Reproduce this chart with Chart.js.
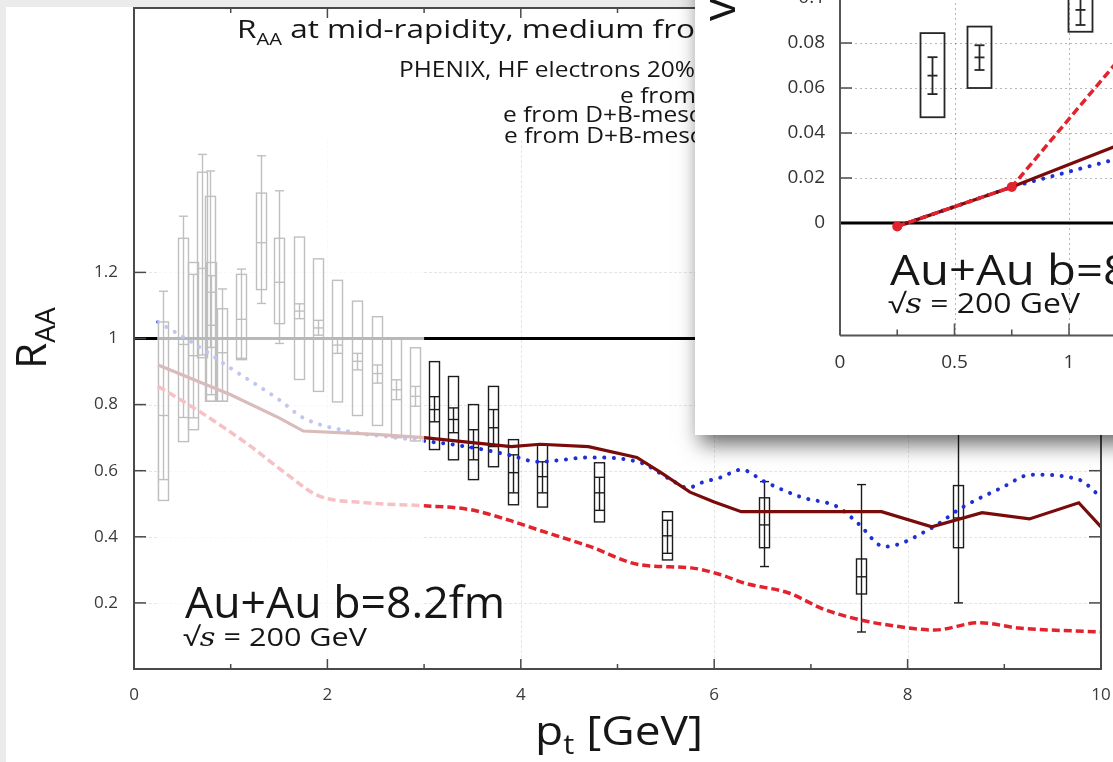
<!DOCTYPE html>
<html>
<head>
<meta charset="utf-8">
<title>R_AA of heavy-flavour electrons</title>
<script src="https://cdn.jsdelivr.net/npm/chart.js@4.4.1/dist/chart.umd.min.js"></script>
<style>
  html, body { margin: 0; padding: 0; overflow: hidden; background: #fff; }
  #wrap { position: relative; width: 1113px; height: 762px; overflow: hidden; }
  #main { position: absolute; left: 0; top: 0; width: 1113px; height: 762px; }
  #inset { position: absolute; left: 695px; top: -60px; width: 640px; height: 495px;
           background: #fff; box-shadow: 5px 9px 20px rgba(0, 0, 0, 0.6); }
</style>
</head>
<body>
<div id="wrap">
  <canvas id="main" width="1113" height="762"></canvas>
  <canvas id="inset" width="640" height="495"></canvas>
</div>
<script>
// ---- R_AA panel: model curves (pt in GeV) ----
const unityPt = [0, 10];
const unityVal = [1, 1];

const solidPt  = [0.25, 1.0, 1.5, 1.75, 2.5, 3.0, 3.5, 3.9, 4.2, 4.7, 5.2, 5.45, 5.75, 6.0, 6.28, 7.73, 8.25, 8.77, 9.26, 9.77, 10.0];
const solidRaa = [0.92, 0.83, 0.76, 0.72, 0.71, 0.70, 0.685, 0.673, 0.68, 0.673, 0.64, 0.594, 0.535, 0.505, 0.476, 0.476, 0.43, 0.473, 0.454, 0.503, 0.43];

const dottedPt  = [0.25, 0.7, 1.0, 1.5, 1.75, 2.2, 2.7, 3.0, 3.5, 3.87, 4.18, 4.72, 5.24, 5.55, 5.73, 5.87, 6.07, 6.28, 6.52, 6.9, 7.28, 7.49, 7.76, 8.25, 8.56, 8.97, 9.28, 9.77, 10.0];
const dottedRaa = [1.05, 0.97, 0.91, 0.815, 0.76, 0.72, 0.70, 0.69, 0.67, 0.648, 0.627, 0.64, 0.624, 0.573, 0.548, 0.564, 0.58, 0.603, 0.567, 0.52, 0.49, 0.44, 0.37, 0.427, 0.488, 0.548, 0.588, 0.573, 0.52];

const dashedPt  = [0.25, 0.7, 1.2, 1.6, 1.9, 2.4, 3.0, 3.48, 3.87, 4.18, 4.72, 5.24, 5.76, 6.07, 6.31, 6.77, 7.14, 7.52, 7.8, 8.28, 8.74, 9.15, 10.0];
const dashedRaa = [0.855, 0.775, 0.675, 0.585, 0.525, 0.503, 0.494, 0.482, 0.451, 0.421, 0.37, 0.315, 0.306, 0.285, 0.26, 0.23, 0.18, 0.148, 0.133, 0.118, 0.14, 0.124, 0.112];

// ---- PHENIX heavy-flavour electrons: value, stat. error bar, syst. box ----
const phenixPt     = [0.30, 0.51, 0.615, 0.705, 0.79, 0.80, 0.91, 1.11, 1.31, 1.50, 1.705, 1.90, 2.10, 2.31, 2.51, 2.71, 2.91, 3.10, 3.30, 3.51, 3.71, 3.92, 4.22, 4.81, 5.51, 6.52, 7.52, 8.52];
const phenixRaa    = [0.767, 0.982, 0.948, 1.212, 1.14, 1.04, 0.957, 1.058, 1.29, 1.17, 1.083, 1.032, 0.98, 0.931, 0.894, 0.845, 0.825, 0.785, 0.755, 0.67, 0.73, 0.594, 0.582, 0.533, 0.403, 0.436, 0.279, 0.457];
const phenixStatLo = [0.573, 0.761, 0.76, 0.95, 0.973, 0.83, 0.81, 0.94, 1.106, 0.985, 1.06, 1.01, 0.955, 0.905, 0.865, 0.815, 0.795, 0.748, 0.715, 0.633, 0.673, 0.533, 0.533, 0.48, 0.35, 0.31, 0.112, 0.20];
const phenixStatHi = [1.143, 1.37, 1.194, 1.557, 1.507, 1.19, 1.15, 1.21, 1.553, 1.447, 1.105, 1.055, 1.0, 0.955, 0.92, 0.875, 0.855, 0.824, 0.79, 0.724, 0.785, 0.648, 0.627, 0.58, 0.45, 0.567, 0.558, 0.80];
const phenixSysLo  = [0.51, 0.688, 0.724, 0.942, 0.81, 0.81, 0.81, 0.936, 1.148, 1.045, 0.876, 0.84, 0.808, 0.767, 0.737, 0.70, 0.69, 0.664, 0.633, 0.573, 0.612, 0.497, 0.49, 0.445, 0.33, 0.367, 0.227, 0.367];
const phenixSysHi  = [1.05, 1.303, 1.23, 1.503, 1.43, 1.23, 1.09, 1.194, 1.44, 1.303, 1.307, 1.241, 1.176, 1.113, 1.066, 1.0, 0.972, 0.93, 0.885, 0.80, 0.855, 0.694, 0.679, 0.624, 0.476, 0.518, 0.333, 0.555];

// ---- v2 panel ----
const zeroPt  = [0, 2];
const zeroVal = [0, 0];
const v2CurvePt = [0.25, 0.75, 1.25];
const v2Dashed  = [-0.0015, 0.016, 0.0765];
const v2Solid   = [-0.0015, 0.016, 0.036];
const v2Dotted  = [-0.0015, 0.016, 0.0296];

const v2Pt     = [0.40, 0.605, 1.05];
const v2Val    = [0.0655, 0.0736, 0.0947];
const v2StatLo = [0.0573, 0.068, 0.088];
const v2StatHi = [0.0737, 0.079, 0.101];
const v2SysLo  = [0.047, 0.060, 0.085];
const v2SysHi  = [0.0844, 0.0873, 0.105];

// ---- text helpers ----
const FAMILY = "'Open Sans', 'Noto Sans', sans-serif";
const SERIF = "'DejaVu Serif', 'Liberation Serif', serif";
const INK = '#161616';

function pairs(xs, ys) { return xs.map((x, i) => ({ x: x, y: ys[i] })); }
function fontOf(r) { return (r.style ? r.style + ' ' : '') + r.size + 'px ' + (r.family || FAMILY); }
function runsWidth(ctx, runs) {
  let w = 0;
  runs.forEach(r => { ctx.font = fontOf(r); w += ctx.measureText(r.t).width; });
  return w;
}
function drawRuns(ctx, runs, x, y, sx, angle, color) {
  ctx.save();
  ctx.translate(x, y);
  if (angle) ctx.rotate(angle);
  ctx.scale(sx, 1);
  ctx.fillStyle = color || INK;
  ctx.textAlign = 'left';
  ctx.textBaseline = 'alphabetic';
  let cx = 0;
  runs.forEach(r => { ctx.font = fontOf(r); ctx.fillText(r.t, cx, r.dy || 0); cx += ctx.measureText(r.t).width; });
  ctx.restore();
}
function fitScale(ctx, runs, width) { return width / runsWidth(ctx, runs); }

function seg(ctx, x1, y1, x2, y2) { ctx.beginPath(); ctx.moveTo(x1, y1); ctx.lineTo(x2, y2); ctx.stroke(); }

// axes keep exactly the size given here, with no extra room for edge labels
function fixedSize(prop, size) {
  return function (s) {
    s[prop] = size;
    s.paddingTop = 0; s.paddingBottom = 0; s.paddingLeft = 0; s.paddingRight = 0;
  };
}

// one measured point: syst. box, stat. bar with caps, value mark
function drawMeasurement(ctx, xs, ys, pt, val, sLo, sHi, bLo, bHi, halfBox, halfCap) {
  const px = Math.round(xs.getPixelForValue(pt)) + 0.5;
  const yv = ys.getPixelForValue(val);
  const y1 = ys.getPixelForValue(sLo), y2 = ys.getPixelForValue(sHi);
  const b1 = ys.getPixelForValue(bLo), b2 = ys.getPixelForValue(bHi);
  ctx.strokeRect(px - halfBox, b2, 2 * halfBox, b1 - b2);
  seg(ctx, px, y1, px, y2);
  seg(ctx, px - halfCap, y1, px + halfCap, y1);
  seg(ctx, px - halfCap, y2, px + halfCap, y2);
  seg(ctx, px - halfCap, yv, px + halfCap, yv);
}

// ---- main panel decorations ----
const mainDecor = {
  id: 'mainDecor',
  beforeDraw(chart) {
    const { ctx, width, height } = chart;
    ctx.save();
    ctx.fillStyle = '#fff';
    ctx.fillRect(0, 0, width, height);
    ctx.fillStyle = '#ebebeb';
    ctx.fillRect(0, 0, width, 7);
    ctx.fillRect(0, 0, 6, height);
    ctx.restore();
  },
  beforeDatasetsDraw(chart) {
    const { ctx, chartArea: a, scales: { x, y } } = chart;
    ctx.save();
    ctx.strokeStyle = 'rgba(0,0,0,0.10)';
    ctx.lineWidth = 1;
    ctx.setLineDash([3, 2]);
    [0.2, 0.4, 0.6, 0.8, 1.2].forEach(v => {
      const py = Math.round(y.getPixelForValue(v)) + 0.5;
      seg(ctx, a.left, py, a.right, py);
    });
    [2, 4, 6, 8].forEach(v => {
      const px = Math.round(x.getPixelForValue(v)) + 0.5;
      seg(ctx, px, y.getPixelForValue(1.6), px, a.bottom);
    });
    ctx.setLineDash([]);
    ctx.strokeStyle = '#1c1c1c';
    ctx.lineWidth = 1.4;
    phenixPt.forEach((pt, i) => drawMeasurement(ctx, x, y, pt, phenixRaa[i], phenixStatLo[i], phenixStatHi[i],
      phenixSysLo[i], phenixSysHi[i], 5, 4.5));
    ctx.restore();
  },
  afterDatasetsDraw(chart) {
    const { ctx, chartArea: a, scales: { x, y } } = chart;
    ctx.save();
    // low-pt region shown faded
    const fx0 = x.getPixelForValue(0.24), fx1 = x.getPixelForValue(3.0);
    const fy0 = y.getPixelForValue(1.6), fy1 = y.getPixelForValue(0.02);
    ctx.fillStyle = 'rgba(255,255,255,0.72)';
    ctx.fillRect(fx0, fy0, fx1 - fx0, fy1 - fy0);

    // frame and tick marks
    ctx.strokeStyle = '#4a4a4a';
    ctx.lineWidth = 2;
    ctx.strokeRect(a.left, a.top, a.right - a.left, a.bottom - a.top);
    ctx.lineWidth = 1.5;
    for (let v = 1; v < 10; v++) {
      const px = x.getPixelForValue(v), len = v % 2 === 0 ? 10 : 5;
      seg(ctx, px, a.bottom, px, a.bottom - len);
      seg(ctx, px, a.top, px, a.top + len);
    }
    [0.2, 0.4, 0.6, 0.8, 1.0, 1.2].forEach(v => {
      const py = y.getPixelForValue(v);
      seg(ctx, a.left, py, a.left + 12, py);
      seg(ctx, a.right, py, a.right - 12, py);
    });

    // heading and key
    const title = [{ t: 'R', size: 25 }, { t: 'AA', size: 16, dy: 7 }, { t: ' at mid-rapidity, medium from hydro', size: 25 }];
    const titleVis = [{ t: 'R', size: 25 }, { t: 'AA', size: 16, dy: 7 }, { t: ' at mid-rapidity, medium fro', size: 25 }];
    drawRuns(ctx, title, 237, 38, fitScale(ctx, titleVis, 458));

    const keySx = fitScale(ctx, [{ t: 'PHENIX, HF electrons 20%', size: 21 }], 296);
    drawRuns(ctx, [{ t: 'PHENIX, HF electrons 20%-40%', size: 21 }], 399, 77, keySx);
    drawRuns(ctx, [{ t: 'e from D-mesons, b=8.2fm', size: 21 }], 620, 103, keySx);
    drawRuns(ctx, [{ t: 'e from D+B-mesons, b=8.2fm', size: 21 }], 503, 122, keySx);
    drawRuns(ctx, [{ t: 'e from D+B-mesons, b=8.2fm, no coal.', size: 21 }], 504, 143, keySx);

    // collision system
    const sys = [{ t: 'Au+Au b=8.2fm', size: 44 }];
    drawRuns(ctx, sys, 185, 618, fitScale(ctx, sys, 320));
    const rs = [{ t: '\u221A', size: 26 }, { t: 's', size: 26, style: 'italic', family: SERIF }, { t: ' = 200 GeV', size: 26 }];
    drawRuns(ctx, rs, 183, 646, fitScale(ctx, rs, 184));

    // axis titles
    const xt = [{ t: 'p', size: 40 }, { t: 't', size: 27, dy: 9 }, { t: ' [GeV]', size: 40 }];
    drawRuns(ctx, xt, 535, 745, fitScale(ctx, xt, 168));
    const yt = [{ t: 'R', size: 42 }, { t: 'AA', size: 28, dy: 9 }];
    const ytw = runsWidth(ctx, yt);
    drawRuns(ctx, yt, 46, 338 + ytw / 2, 1, -Math.PI / 2);
    ctx.restore();
  }
};

const tickFont = { family: 'Open Sans', size: 17 };

new Chart(document.getElementById('main'), {
  type: 'line',
  data: {
    datasets: [
      { data: pairs(solidPt, solidRaa), borderColor: '#7a0b0b', borderWidth: 3.2, pointRadius: 0, tension: 0 },
      { data: pairs(dottedPt, dottedRaa), borderColor: '#1f2fd6', borderWidth: 4, borderDash: [0.1, 9.5],
        borderCapStyle: 'round', pointRadius: 0, cubicInterpolationMode: 'monotone' },
      { data: pairs(dashedPt, dashedRaa), borderColor: '#e2222c', borderWidth: 3.5, borderDash: [8, 4],
        pointRadius: 0, cubicInterpolationMode: 'monotone' },
      { data: pairs(unityPt, unityVal), borderColor: '#000', borderWidth: 3, pointRadius: 0 }
    ]
  },
  options: {
    responsive: false,
    animation: false,
    events: [],
    layout: { padding: { top: 8, right: 12, left: 0, bottom: 0 } },
    plugins: { legend: { display: false }, tooltip: { enabled: false } },
    scales: {
      x: {
        type: 'linear', min: 0, max: 10,
        afterFit: fixedSize('height', 93),
        grid: { display: false, drawTicks: false }, border: { display: false },
        ticks: { stepSize: 1, autoSkip: false, maxRotation: 0, padding: 16, color: '#3a3a3a', font: tickFont,
                 callback: v => (Math.round(v) % 2 === 0 ? String(Math.round(v)) : '') }
      },
      y: {
        type: 'linear', min: 0, max: 2,
        afterFit: fixedSize('width', 134),
        grid: { display: false, drawTicks: false }, border: { display: false },
        ticks: { stepSize: 0.2, autoSkip: false, padding: 16, color: '#3a3a3a', font: tickFont,
                 callback: v => (v > 0.1 && v < 1.25 ? String(parseFloat(v.toFixed(1))) : '') }
      }
    }
  },
  plugins: [mainDecor]
});

// ---- inset decorations ----
const insetDecor = {
  id: 'insetDecor',
  beforeDraw(chart) {
    const { ctx, width, height } = chart;
    ctx.save();
    ctx.fillStyle = '#fff';
    ctx.fillRect(0, 0, width, height);
    ctx.restore();
  },
  beforeDatasetsDraw(chart) {
    const { ctx, chartArea: a, scales: { x, y } } = chart;
    ctx.save();
    ctx.strokeStyle = 'rgba(0,0,0,0.28)';
    ctx.lineWidth = 1;
    ctx.setLineDash([2, 3]);
    [0.02, 0.04, 0.06, 0.08, 0.1].forEach(v => {
      const py = Math.round(y.getPixelForValue(v)) + 0.5;
      seg(ctx, a.left, py, a.right, py);
    });
    [0.5, 1, 1.5].forEach(v => {
      const px = Math.round(x.getPixelForValue(v)) + 0.5;
      seg(ctx, px, a.top, px, a.bottom);
    });
    ctx.setLineDash([]);
    ctx.strokeStyle = '#262626';
    ctx.lineWidth = 1.8;
    v2Pt.forEach((pt, i) => drawMeasurement(ctx, x, y, pt, v2Val[i], v2StatLo[i], v2StatHi[i],
      v2SysLo[i], v2SysHi[i], 12, 5));
    ctx.restore();
  },
  afterDatasetsDraw(chart) {
    const { ctx, chartArea: a, scales: { x, y } } = chart;
    ctx.save();
    ctx.strokeStyle = '#555';
    ctx.lineWidth = 2;
    seg(ctx, a.left, a.top, a.left, a.bottom);
    seg(ctx, a.left, a.bottom, a.right, a.bottom);
    ctx.lineWidth = 1.6;
    [0.02, 0.04, 0.06, 0.08, 0.1].forEach(v => {
      const py = y.getPixelForValue(v);
      seg(ctx, a.left, py, a.left + 12, py);
    });
    for (let k = 1; k < 8; k++) {
      const v = k * 0.25, px = x.getPixelForValue(v), len = k % 2 === 0 ? 12 : 6;
      seg(ctx, px, a.bottom, px, a.bottom - len);
    }
    // collision system
    const sysVis = [{ t: 'Au+Au b=', size: 42 }];
    const sx = fitScale(ctx, sysVis, 213);
    drawRuns(ctx, [{ t: 'Au+Au b=8.2fm', size: 42 }], 195, 345, sx);
    const rs = [{ t: '\u221A', size: 27 }, { t: 's', size: 27, style: 'italic', family: SERIF }, { t: ' = 200 GeV', size: 27 }];
    drawRuns(ctx, rs, 193, 373, fitScale(ctx, rs, 192));
    // axis title
    drawRuns(ctx, [{ t: 'v', size: 46 }, { t: '2', size: 30, dy: 10 }], 40, 81, 1, -Math.PI / 2);
    ctx.restore();
  }
};

const insetTickFont = { family: 'Open Sans', size: 19 };

new Chart(document.getElementById('inset'), {
  type: 'line',
  data: {
    datasets: [
      { data: pairs(v2CurvePt, v2Dashed), borderColor: '#e2222c', borderWidth: 3.5, borderDash: [8, 4],
        pointRadius: 5, pointBackgroundColor: '#e2222c', pointBorderWidth: 0 },
      { data: pairs(v2CurvePt, v2Solid), borderColor: '#7a0b0b', borderWidth: 3.2, pointRadius: 0 },
      { data: pairs(v2CurvePt, v2Dotted), borderColor: '#1f2fd6', borderWidth: 4, borderDash: [0.1, 9.5],
        borderCapStyle: 'round', pointRadius: 0 },
      { data: pairs(zeroPt, zeroVal), borderColor: '#000', borderWidth: 3, pointRadius: 0 }
    ]
  },
  options: {
    responsive: false,
    animation: false,
    events: [],
    layout: { padding: { top: 13, right: 37, left: 0, bottom: 0 } },
    plugins: { legend: { display: false }, tooltip: { enabled: false } },
    scales: {
      x: {
        type: 'linear', min: 0, max: 2,
        afterFit: fixedSize('height', 99.5),
        grid: { display: false, drawTicks: false }, border: { display: false },
        ticks: { stepSize: 0.5, autoSkip: false, maxRotation: 0, padding: 16, color: '#333', font: insetTickFont,
                 callback: v => String(parseFloat(v.toFixed(2))) }
      },
      y: {
        type: 'linear', min: -0.05, max: 0.12,
        afterFit: fixedSize('width', 145),
        grid: { display: false, drawTicks: false }, border: { display: false },
        ticks: { stepSize: 0.02, autoSkip: false, padding: 15, color: '#333', font: insetTickFont,
                 callback: v => {
                   const onStep = Math.abs(v / 0.02 - Math.round(v / 0.02)) < 1e-6;
                   return (onStep && v > -1e-9 && v < 0.1001) ? String(parseFloat(v.toFixed(2))) : '';
                 } }
      }
    }
  },
  plugins: [insetDecor]
});
</script>
</body>
</html>
